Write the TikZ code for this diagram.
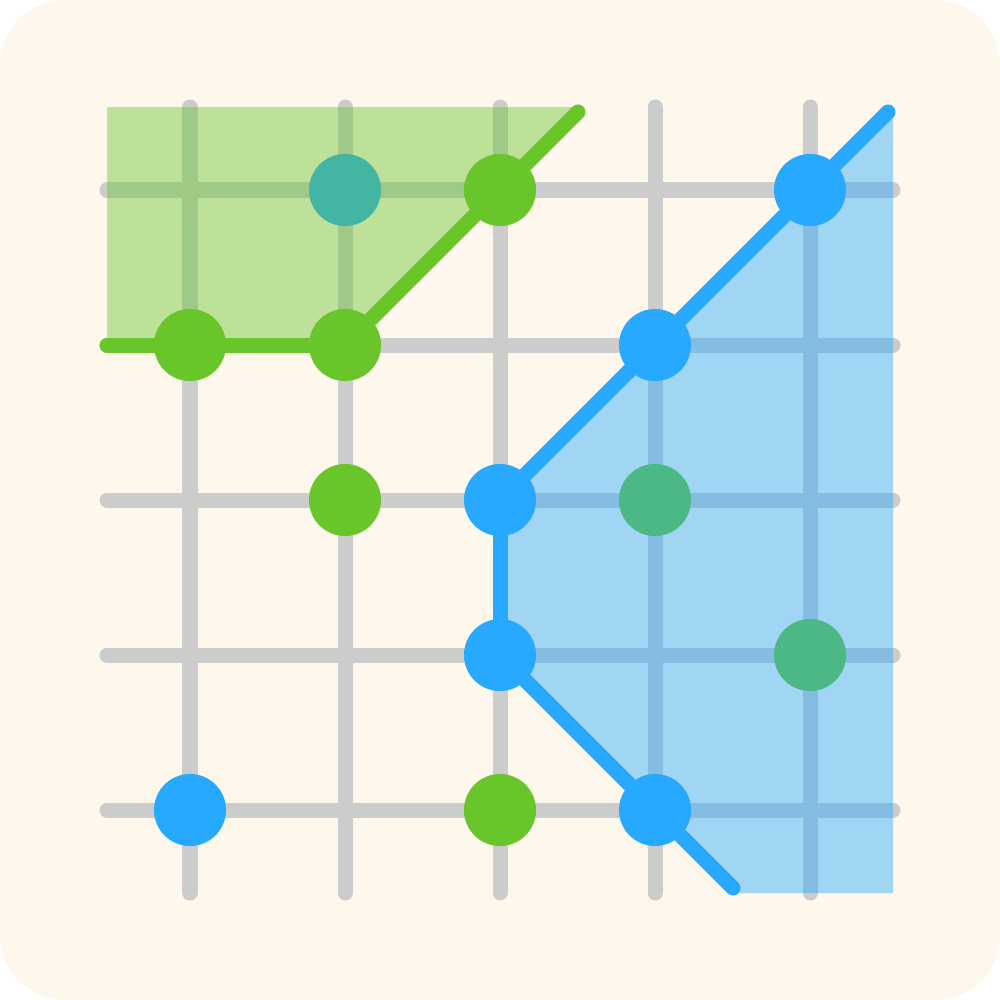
\documentclass[tikz,border=0pt]{standalone}
\definecolor{cream}{HTML}{FEF7EC}
\definecolor{gridgray}{HTML}{CCCCCC}
\definecolor{grn}{HTML}{68C52A}
\definecolor{blu}{HTML}{27A9FF}
\begin{document}
\begin{tikzpicture}[x=0.01cm,y=-0.01cm,
  gridline/.style={draw=gridgray,line width=0.15cm,line cap=round},
  gdot/.style={circle,fill=grn,minimum size=0.72cm,inner sep=0pt},
  bdot/.style={circle,fill=blu,minimum size=0.72cm,inner sep=0pt},
  gline/.style={draw=grn,line width=0.15cm,line cap=round,line join=round},
  bline/.style={draw=blu,line width=0.15cm,line cap=round,line join=round},
  gfill/.style={fill=grn,fill opacity=0.43},
  bfill/.style={fill=blu,fill opacity=0.43}]
\useasboundingbox (0,0) rectangle (1000,1000);
\fill[white] (0,0) rectangle (1000,1000);
\fill[cream,rounded corners=0.65cm] (0,0) rectangle (1000,1000);
% grid
\foreach \v in {190,345,500,655,810}{
  \draw[gridline] (\v,107) -- (\v,893);
  \draw[gridline] (107,\v) -- (893,\v);
}
% dots
\node[gdot] (g1) at (190,345) {};
\node[gdot] (g2) at (345,345) {};
\node[gdot] (g3) at (500,190) {};
\node[gdot] (g4) at (345,500) {};
\node[gdot] (g5) at (500,810) {};
\node[gdot] (g6) at (655,500) {};
\node[gdot] (g7) at (810,655) {};
\node[bdot] (b1) at (810,190) {};
\node[bdot] (b2) at (655,345) {};
\node[bdot] (b3) at (500,500) {};
\node[bdot] (b4) at (500,655) {};
\node[bdot] (b5) at (655,810) {};
\node[bdot] (b6) at (190,810) {};
\node[bdot] (b7) at (345,190) {};
% fills
\fill[gfill] (107,107) -- (583,107) -- (345,345) -- (107,345) -- cycle;
\fill[bfill] (893,107) -- (500,500) -- (500,655) -- (738,893) -- (893,893) -- cycle;
% lines
\coordinate (gs) at (107,345);
\coordinate (ge) at (578,112);
\coordinate (bs) at (888,112);
\coordinate (be) at (733,888);
\draw[gline] (gs) -- (g1);
\draw[gline] (g1) -- (g2);
\draw[gline] (g2) -- (g3);
\draw[gline] (g3) -- (ge);
\draw[bline] (bs) -- (b1);
\draw[bline] (b1) -- (b2);
\draw[bline] (b2) -- (b3);
\draw[bline] (b3) -- (b4);
\draw[bline] (b4) -- (b5);
\draw[bline] (b5) -- (be);
\end{tikzpicture}
\end{document}
